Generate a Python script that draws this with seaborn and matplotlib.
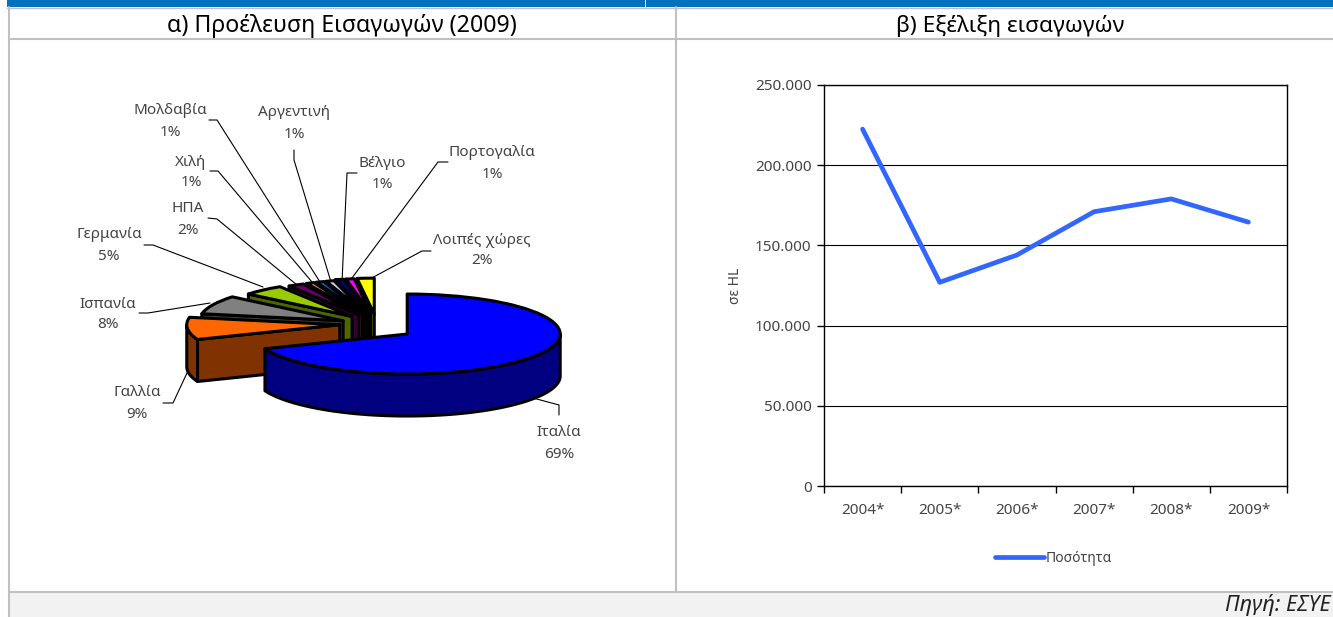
import numpy as np
import pandas as pd
import matplotlib
matplotlib.use("Agg")
import matplotlib.pyplot as plt
from matplotlib.patches import Rectangle
import seaborn as sns

# ---------- data ----------
countries = ["Ιταλία", "Γαλλία", "Ισπανία", "Γερμανία", "ΗΠΑ", "Χιλή",
             "Μολδαβία", "Αργεντινή", "Βέλγιο", "Πορτογαλία", "Λοιπές χώρες"]
shares = [69, 9, 8, 5, 2, 1, 1, 1, 1, 1, 2]
years = ["2004*", "2005*", "2006*", "2007*", "2008*", "2009*"]
quantity = [222500, 127000, 144000, 171000, 179000, 164500]

# ---------- styles / layout ----------
top_colors = ["#0000FF", "#FF6600", "#808080", "#99CC00", "#660066", "#FF8080",
              "#0066CC", "#CCCCFF", "#000080", "#FF00FF", "#FFFF00"]
side_colors = ["#000080", "#803300", "#404040", "#4D6600", "#330033", "#804040",
               "#003366", "#666680", "#000040", "#800080", "#808000"]
label_pos = [(559, 433), (137, 393), (108, 304), (109, 235), (188, 209), (191, 162),
             (170, 111), (294, 113), (382, 163), (492, 153), (482, 240)]
leaders = [
    [(533, 398), (559, 405), (559, 415)],
    [(163, 403), (173, 403), (187, 373)],
    [(139, 313), (148, 313), (210, 303)],
    [(144, 245), (153, 245), (263, 287)],
    [(208, 218), (217, 219), (297, 285)],
    [(210, 171), (218, 171), (312, 282)],
    [(209, 120), (217, 120), (320, 282)],
    [(294, 150), (294, 160), (331, 282)],
    [(357, 173), (347, 173), (342, 282)],
    [(448, 162), (438, 162), (349, 282)],
    [(431, 251), (422, 251), (368, 280)],
]
slice_scale = [1.0, 1.0, 0.94, 0.88, 0.85, 0.85, 0.85, 0.85, 0.87, 0.87, 0.9]
slice_dy_px = [0, -3, 0, 0, 0, 0, 0, 0, 0, 0, 1]
W, H = 1333, 617
CX, CY = 376.6, 326.5      # pie centre, px
RX, RY = 153.0, 40.0       # ellipse radii, px
EX, EY = 37.0 / RX, 13.4 / RY   # slice explosion, in radii
DEPTH = 42.0 / RY
FONT = "Noto Sans"
TXT = "#444444"
PIE_LW = 2.2

sns.set_theme(style="white")
plt.rcParams["font.family"] = [FONT, "DejaVu Sans"]
fig = plt.figure(figsize=(W / 100, H / 100), dpi=100, facecolor="white")

# ---------- background panel, pixel coordinates ----------
bg = fig.add_axes([0, 0, 1, 1], zorder=0)
bg.set_xlim(0, W)
bg.set_ylim(H, 0)
bg.axis("off")
bg.add_patch(Rectangle((7, 0), W - 7, 7, color="#0070C0", lw=0))
bg.add_patch(Rectangle((644.5, 0), 1.5, 7, color="white", lw=0))
bg.add_patch(Rectangle((9, 592), W - 9, 25, color="#F2F2F2", lw=0))
grey = "#C0C0C0"
bg.plot([9, 9], [7, H], color=grey, lw=1.5)
bg.plot([676, 676], [7, 591], color=grey, lw=1.5)
bg.plot([9, W], [38.5, 38.5], color=grey, lw=1.5)
bg.plot([9, W], [591.5, 591.5], color=grey, lw=1.5)
bg.plot([7, W], [7.5, 7.5], color=grey, lw=1.0)
bg.text(342, 26, "α) Προέλευση Εισαγωγών (2009)", ha="center", va="center",
        fontsize=16.7, color="black")
bg.text(1010, 26, "β) Εξέλιξη εισαγωγών", ha="center", va="center",
        fontsize=16.3, color="black")
bg.text(1331, 605, "Πηγή: ΕΣΥΕ", ha="right", va="center", fontsize=15.5,
        style="italic", color="#222222")
for name, share, (lx, ly) in zip(countries, shares, label_pos):
    bg.text(lx, ly, name, ha="center", va="center", fontsize=11, color=TXT)
    bg.text(lx, ly + 21, f"{share}%", ha="center", va="center", fontsize=11, color=TXT)

# ---------- pseudo-3D pie ----------
pie = fig.add_axes([0, 0, 1, 1], zorder=1)
pie.patch.set_alpha(0)
wedges, _ = pie.pie(shares, colors=top_colors, startangle=90, counterclock=False,
                    wedgeprops=dict(edgecolor="black", linewidth=PIE_LW, joinstyle="round"))
pie.set_aspect("auto")
pie.set_xlim((0 - CX) / RX, (W - CX) / RX)
pie.set_ylim((CY - H) / RY, CY / RY)
pie.axis("off")

edges = np.cumsum([0] + shares) / sum(shares) * 360.0
wall_style = dict(edgecolor="black", linewidth=PIE_LW, joinstyle="round", clip_on=False)
for i in range(len(shares) - 1, -1, -1):
    t0, t1 = edges[i], edges[i + 1]
    mid = np.radians((t0 + t1) / 2)
    k = slice_scale[i]
    x0 = np.sin(mid) * EX
    y0 = np.cos(mid) * EY - slice_dy_px[i] / RY
    wedges[i].set_center((x0, y0))
    wedges[i].set_radius(k)
    z = 10 + (len(shares) - i) * 5
    wedges[i].set_zorder(z + 3)
    side = side_colors[i]
    # radial wall (only the one facing the viewer)
    for t, visible in ((t0, np.sin(np.radians(t0)) < 0), (t1, np.sin(np.radians(t1)) > 0)):
        if visible:
            r = np.radians(t)
            rx_, ry_ = k * np.sin(r), k * np.cos(r)
            px = [x0, x0 + rx_, x0 + rx_, x0]
            py = [y0, y0 + ry_, y0 + ry_ - DEPTH, y0 - DEPTH]
            pie.fill(px, py, facecolor=side, zorder=z + 1, **wall_style)
    # outer curved wall
    a0, a1 = max(t0, 90.0), min(t1, 270.0)
    if a1 > a0:
        tt = np.radians(np.linspace(a0, a1, 80))
        ax_ = x0 + k * np.sin(tt)
        ay_ = y0 + k * np.cos(tt)
        pie.fill(np.r_[ax_, ax_[::-1]], np.r_[ay_, ay_[::-1] - DEPTH],
                 facecolor=side, zorder=z + 2, **wall_style)

# ---------- leader lines ----------
lead = fig.add_axes([0, 0, 1, 1], zorder=0.5)
lead.patch.set_alpha(0)
lead.set_xlim(0, W)
lead.set_ylim(H, 0)
lead.axis("off")
for pts in leaders:
    xs, ys = zip(*pts)
    lead.plot(xs, ys, color="black", lw=0.8)

# ---------- line chart ----------
L, R, T, B = 824, 1287, 85, 486
ax = fig.add_axes([L / W, 1 - B / H, (R - L) / W, (B - T) / H], zorder=2)
df = pd.DataFrame({"year": years, "Ποσότητα": quantity})
sns.lineplot(data=df, x="year", y="Ποσότητα", ax=ax, color="#3366FF", lw=3.4,
             label="Ποσότητα", solid_capstyle="round", sort=False)
ax.set_xlim(-0.5, len(years) - 0.5)
ax.set_ylim(0, 250000)
ax.set_yticks(range(0, 250001, 50000))
ax.set_yticklabels([f"{v:,}".replace(",", ".") for v in range(0, 250001, 50000)])
ax.set_xticks(range(len(years)))
ax.set_xticklabels(years)
ax.set_xticks(np.arange(-0.5, len(years)), minor=True)
ax.tick_params(axis="x", which="major", length=0, pad=12, labelsize=11, labelcolor=TXT)
ax.tick_params(axis="x", which="minor", length=5, width=1, color="black", bottom=True)
ax.tick_params(axis="y", length=5, width=1, color="black", left=True, pad=4,
               labelsize=11, labelcolor=TXT)
ax.grid(True, axis="y", color="black", lw=0.8)
ax.set_axisbelow(True)
for s in ax.spines.values():
    s.set_visible(True)
    s.set_color("black")
    s.set_linewidth(1)
ax.set_xlabel("")
ax.set_ylabel("σε HL", fontsize=10, color=TXT)
ax.yaxis.set_label_coords((743 - L) / (R - L), 0.5)
ax.legend(loc="center", bbox_to_anchor=(1053.5 / W, 1 - 558 / H), bbox_transform=fig.transFigure,
          frameon=False, fontsize=10, handlelength=3.55, handletextpad=0.12,
          labelcolor=TXT)

fig.savefig("out.png", dpi=100)
